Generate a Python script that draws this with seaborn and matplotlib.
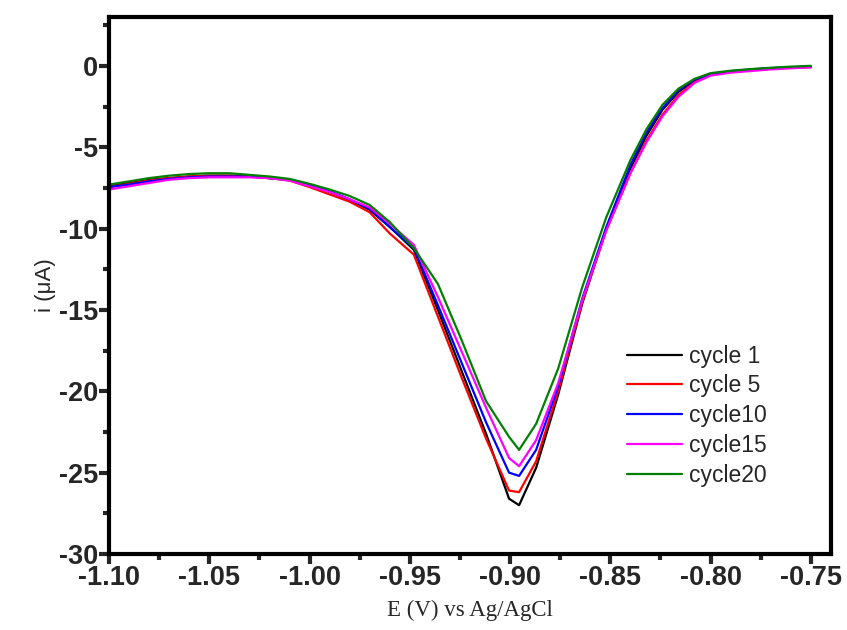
import numpy as np
import pandas as pd
import matplotlib
matplotlib.use("Agg")
import matplotlib.pyplot as plt
from matplotlib.ticker import MultipleLocator, FormatStrFormatter
import seaborn as sns

# ===== DADOS =====
potencial = [-1.100, -1.090, -1.080, -1.070, -1.060, -1.050, -1.040, -1.030, -1.020, -1.010,
             -1.000, -0.990, -0.980, -0.970, -0.960, -0.948, -0.936, -0.924, -0.912, -0.9005,
             -0.8955, -0.887, -0.876, -0.864, -0.852, -0.840, -0.832, -0.824, -0.816, -0.808,
             -0.800, -0.790, -0.780, -0.770, -0.760, -0.750]

ciclo1 = [-7.4, -7.2, -7.0, -6.9, -6.8, -6.75, -6.75, -6.8, -6.9, -7.0,
          -7.35, -7.75, -8.25, -8.85, -9.9, -11.3, -15.0, -18.8, -22.6, -26.6,
          -27.0, -24.7, -20.2, -14.6, -10.0, -6.3, -4.3, -2.7, -1.6, -0.9,
          -0.5, -0.35, -0.25, -0.15, -0.1, -0.05]
ciclo5 = [-7.45, -7.25, -7.05, -6.9, -6.8, -6.75, -6.75, -6.8, -6.9, -7.05,
          -7.45, -7.9, -8.35, -9.0, -10.3, -11.6, -15.4, -19.2, -22.9, -26.1,
          -26.2, -24.3, -20.0, -14.5, -10.1, -6.6, -4.6, -3.0, -1.8, -1.0,
          -0.55, -0.38, -0.27, -0.18, -0.12, -0.08]
ciclo10 = [-7.45, -7.3, -7.1, -6.95, -6.85, -6.8, -6.8, -6.8, -6.9, -7.0,
           -7.35, -7.7, -8.2, -8.8, -9.9, -11.2, -14.7, -18.3, -21.9, -25.0,
           -25.2, -23.6, -19.7, -14.3, -9.9, -6.1, -4.1, -2.6, -1.5, -0.85,
           -0.5, -0.33, -0.22, -0.14, -0.09, -0.05]
ciclo15 = [-7.6, -7.4, -7.2, -7.0, -6.9, -6.85, -6.85, -6.85, -6.9, -7.05,
           -7.4, -7.75, -8.2, -8.7, -9.7, -11.0, -14.2, -17.6, -21.0, -24.1,
           -24.6, -23.0, -19.5, -14.4, -10.1, -6.6, -4.7, -3.1, -1.9, -1.05,
           -0.6, -0.42, -0.32, -0.22, -0.15, -0.1]
ciclo20 = [-7.3, -7.1, -6.9, -6.75, -6.65, -6.6, -6.6, -6.7, -6.8, -6.95,
           -7.25, -7.6, -8.0, -8.55, -9.6, -11.2, -13.4, -16.9, -20.6, -22.8,
           -23.6, -22.0, -18.6, -13.6, -9.3, -5.8, -3.9, -2.4, -1.4, -0.8,
           -0.45, -0.3, -0.2, -0.12, -0.05, 0.0]

nomes = ["cycle 1", "cycle 5", "cycle10", "cycle15", "cycle20"]
cores = ["black", "red", "blue", "magenta", "green"]

# ===== MONTAGEM DA TABELA =====
series = [ciclo1, ciclo5, ciclo10, ciclo15, ciclo20]
df = pd.concat(
    [pd.DataFrame({"E": potencial, "i": s, "ciclo": n}) for s, n in zip(series, nomes)],
    ignore_index=True,
)

# ===== GRÁFICO =====
sns.set_style("white")
plt.rcParams["font.family"] = ["Liberation Sans", "DejaVu Sans"]
plt.rcParams["axes.unicode_minus"] = False

fig = plt.figure(figsize=(8.47, 6.30), dpi=100)
ax = fig.add_axes([0.1287, 0.1206, 0.8523, 0.8524])

sns.lineplot(data=df, x="E", y="i", hue="ciclo", palette=cores, sort=False,
             linewidth=1.6, ax=ax, estimator=None)

ax.set_xlim(-1.10, -0.74)
ax.set_ylim(-30, 3)
ax.xaxis.set_major_locator(MultipleLocator(0.05))
ax.xaxis.set_minor_locator(MultipleLocator(0.025))
ax.yaxis.set_major_locator(MultipleLocator(5))
ax.yaxis.set_minor_locator(MultipleLocator(2.5))
ax.xaxis.set_major_formatter(FormatStrFormatter("%.2f"))

for sp in ax.spines.values():
    sp.set_linewidth(3)
    sp.set_color("black")

ax.tick_params(which="major", direction="out", length=7, width=3,
               bottom=True, left=True, top=False, right=False, pad=1)
ax.tick_params(which="minor", direction="out", length=4, width=3,
               bottom=True, left=True, top=False, right=False)
for lab in ax.get_xticklabels() + ax.get_yticklabels():
    lab.set_fontweight("bold")
    lab.set_fontsize(19.5)

ax.set_xlabel("E (V) vs Ag/AgCl", family=["Liberation Serif", "DejaVu Serif"],
              fontsize=16.5, labelpad=6)
ax.set_ylabel("i (\u03bcA)", fontsize=16, labelpad=2)

leg = ax.legend(loc="upper left", bbox_to_anchor=(0.7175, 0.39), frameon=False,
                fontsize=16.5, handlelength=2.4, labelspacing=0.3, handletextpad=0.3,
                borderaxespad=0, borderpad=0)
for linha in leg.get_lines():
    linha.set_linewidth(1.6)

fig.savefig("out.png", dpi=100)
